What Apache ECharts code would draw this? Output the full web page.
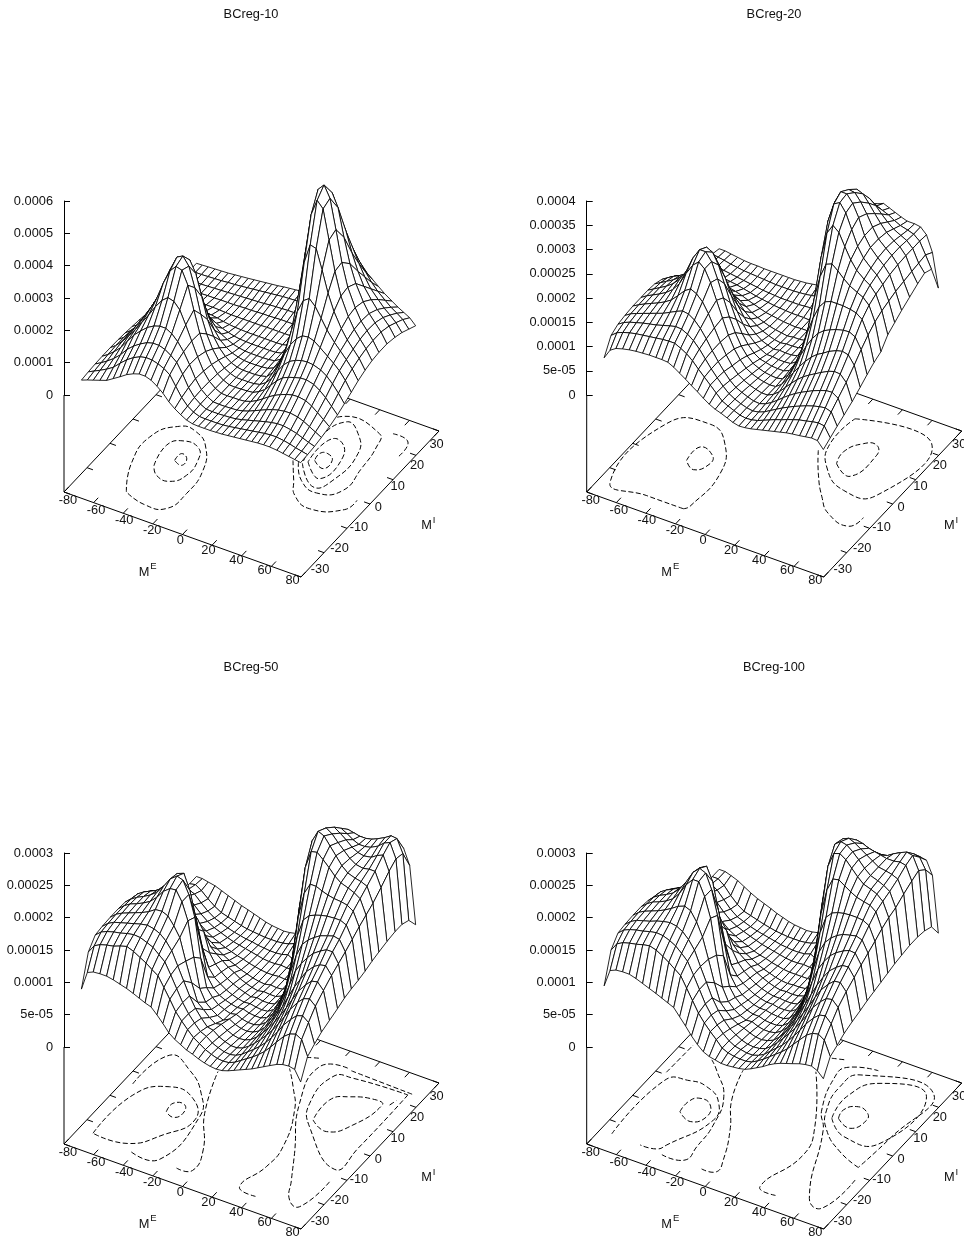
<!DOCTYPE html>
<html><head><meta charset="utf-8">
<style>html,body{margin:0;padding:0;background:#fff}#c{width:964px;height:1236px}</style>
<script src="https://cdn.jsdelivr.net/npm/echarts@6/dist/echarts.min.js"></script>
</head><body><div id="c"></div>
<script>
// Data, z in units of 1e-6
const meGrid=[-76,-72,-68,-63.5,-59,-54.5,-50,-45.5,-41,-37,-33,-29,-25,-21,-17,-13,-9,-5,-1,3,7,11,15,19,23,27,31,35,39,43,47,51,56,60,64,68,72];
const miGrid=[-25,-22,-19,-16,-12.5,-9,-6,-3,0,3,6,9,12.5,16,19,22,25];
const meTicks=[-80,-60,-40,-20,0,20,40,60,80];
const miTicks=[-30,-20,-10,0,10,20,30];
const titles=['BCreg-10','BCreg-20','BCreg-50','BCreg-100'];
const zLabels10=['0','0.0001','0.0002','0.0003','0.0004','0.0005','0.0006'];
const zLabels20=['0','5e-05','0.0001','0.00015','0.0002','0.00025','0.0003','0.00035','0.0004'];
const zLabels50=['0','5e-05','0.0001','0.00015','0.0002','0.00025','0.0003'];
const zLabels100=['0','5e-05','0.0001','0.00015','0.0002','0.00025','0.0003'];

const z10=[
[15,22,28,35,42,55,68,82,92,98,98,92,80,65,45,30,18,8,3,2,2,2,3,4,6,8,10,12,14,16,17,17,15,12,9,6,3],
[18,27,36,47,60,80,98,112,122,126,125,120,112,99,70,42,22,10,3,2,2,2,3,5,8,11,14,17,20,23,25,25,22,18,13,9,5],
[20,30,42,57,76,100,118,132,143,148,148,142,130,115,85,50,26,12,3,2,2,3,4,6,10,15,20,25,30,34,37,37,33,28,21,14,8],
[21,33,48,68,95,122,142,160,172,178,178,168,150,125,92,55,28,13,3,2,2,3,4,8,14,22,30,38,45,50,53,54,50,43,33,23,13],
[21,35,53,78,105,135,165,198,225,240,235,215,175,132,90,52,27,12,3,2,3,3,5,11,20,32,45,56,65,72,77,78,74,64,50,35,20],
[20,34,55,85,115,150,190,245,290,310,305,265,195,130,80,46,24,11,3,2,3,4,6,15,28,48,68,84,92,98,103,104,98,86,70,50,30],
[18,32,52,88,122,160,205,265,310,320,295,235,160,105,65,37,19,9,3,3,3,4,8,20,40,70,95,112,122,128,130,128,120,108,90,68,42],
[15,27,45,82,118,158,205,255,285,285,250,185,120,75,46,26,13,6,3,3,3,5,10,28,58,100,135,160,175,178,172,158,140,125,108,85,55],
[12,20,32,55,85,120,155,185,195,180,145,100,65,40,25,14,8,4,3,3,4,6,14,38,85,150,215,255,268,250,220,190,160,140,120,98,68],
[8,12,18,30,50,80,100,112,108,90,68,47,30,20,12,7,4,3,3,3,4,7,18,55,125,235,345,405,400,340,275,225,180,152,130,108,78],
[4,7,11,17,27,40,50,52,47,38,28,19,13,8,5,4,3,3,3,3,4,8,24,72,190,345,470,520,500,410,320,250,195,162,138,115,85],
[3,4,6,9,13,18,21,21,18,15,11,8,6,5,4,4,4,4,4,4,5,9,28,85,240,410,525,545,510,420,325,255,200,165,142,118,88],
[1,2,3,4,5,7,8,8,7,6,5,5,5,5,5,5,6,6,6,6,6,10,28,85,240,390,480,495,455,370,295,240,192,162,140,118,88],
[1,1,1,2,2,3,3,4,4,4,5,6,6,7,8,8,9,10,10,10,10,12,28,80,205,320,385,395,355,295,245,205,172,148,130,110,82],
[0,1,1,1,2,3,4,5,6,7,8,9,10,11,13,14,15,16,16,16,16,18,30,75,170,255,305,310,280,240,205,175,150,130,115,98,74],
[0,1,1,2,3,4,6,7,9,11,13,15,17,19,21,23,24,25,25,25,25,26,34,68,135,195,230,235,215,190,165,145,125,110,98,85,62],
[0,1,2,3,4,5,7,9,11,13,15,17,19,21,24,26,28,30,30,30,30,32,40,65,105,145,170,175,160,145,130,115,100,88,78,68,50]];

const z20=[
[56,76,84,88,91,93,94,95,95,95,94,88,80,72,63,55,46,38,32,28,23,18,15,16,18,21,24,27,30,33,36,38,40,42,44,43,29],
[87,97,102,106,109,111,113,115,117,118,118,112,105,95,82,70,58,46,34,28,23,18,16,17,20,25,30,35,39,44,48,52,55,58,60,58,38],
[95,103,108,112,116,119,122,126,130,133,132,126,117,104,88,72,58,45,34,27,22,18,16,18,23,30,37,44,50,56,61,66,71,74,76,72,47],
[98,106,111,116,121,126,131,138,145,150,148,140,127,110,90,72,56,42,32,26,21,17,16,20,27,36,46,55,63,70,76,82,88,92,93,85,55],
[100,107,113,119,125,132,141,155,170,178,172,160,140,115,90,68,50,37,29,23,19,16,16,22,32,45,58,70,80,88,95,102,110,114,113,100,65],
[100,108,114,121,129,140,157,183,205,216,206,182,150,118,87,63,45,32,25,20,17,15,16,25,40,58,75,90,103,113,120,128,135,138,135,118,77],
[100,107,114,122,132,146,168,200,222,222,206,175,140,105,77,54,38,27,21,17,15,14,17,30,52,78,102,122,137,147,153,158,162,163,157,135,88],
[98,105,112,120,130,146,170,200,212,206,184,150,115,85,60,42,29,21,18,15,14,14,19,38,70,110,145,172,187,192,192,192,190,187,178,150,98],
[92,100,107,114,123,135,155,172,174,164,142,110,82,60,42,30,21,15,15,13,13,14,22,50,100,165,215,245,250,240,228,218,210,204,192,162,105],
[80,88,94,100,107,113,122,130,128,115,95,74,55,40,29,20,15,11,13,12,12,15,28,70,150,235,290,310,300,275,252,235,222,214,200,170,125],
[68,72,76,80,83,85,87,87,83,73,60,47,36,27,20,15,11,9,11,11,12,17,35,95,205,295,335,342,325,295,265,245,230,220,205,175,135],
[55,58,60,62,62,62,60,58,53,46,38,30,24,19,15,12,10,8,10,10,12,18,42,120,235,320,345,345,330,305,272,252,236,225,210,180,145],
[45,46,46,46,45,43,41,38,34,29,25,21,17,15,13,11,10,9,10,10,12,20,50,135,245,315,332,330,315,295,272,252,238,228,213,183,155],
[40,40,38,36,33,31,29,26,23,20,18,16,14,13,12,11,11,11,10,10,12,22,55,140,238,295,315,310,295,278,262,248,236,228,214,186,165],
[36,35,32,29,27,25,23,21,19,17,16,15,14,14,14,14,15,16,12,11,13,24,58,140,225,270,285,285,275,262,250,240,232,226,214,188,172],
[34,32,30,27,25,23,22,21,20,19,18,18,18,18,19,20,22,24,14,13,15,26,60,135,205,240,255,255,250,245,238,232,228,224,214,190,165],
[30,30,28,26,24,23,23,22,22,22,22,22,22,23,24,26,28,32,14,14,16,28,58,125,180,215,240,245,240,235,230,226,226,224,212,180,111]];

const z50=[
[74,103,107,108,108,106,103,100,96,92,88,85,76,66,55,48,43,38,35,31,28,26,25,26,29,33,37,41,45,50,55,60,66,69,70,68,52],
[120,133,138,141,143,147,150,146,140,135,128,122,107,92,76,65,55,46,40,34,30,27,26,27,31,37,43,49,56,64,74,85,98,105,108,103,80],
[135,143,147,150,152,155,157,156,152,148,140,132,115,97,79,65,54,44,40,33,29,26,25,27,32,39,46,54,63,74,86,100,113,122,125,118,88],
[137,145,150,153,156,159,162,164,162,158,150,138,118,98,78,62,50,40,38,31,27,24,24,27,33,41,50,60,71,84,98,113,128,137,140,132,95],
[138,146,151,155,159,163,168,175,176,172,160,145,112,82,55,47,38,32,34,28,24,22,23,27,34,44,55,67,81,96,112,128,142,151,153,143,100],
[138,146,152,156,161,167,177,190,198,199,184,158,105,60,42,34,28,24,29,24,21,20,22,27,36,48,62,78,97,115,130,145,157,163,165,153,105],
[137,145,151,156,162,170,183,198,206,203,184,152,92,50,38,30,26,23,25,21,19,19,22,29,40,54,75,100,125,140,152,162,170,175,175,160,110],
[132,142,148,153,158,168,180,195,199,176,138,95,52,38,30,26,23,21,22,19,18,18,22,31,46,70,105,135,155,165,172,178,182,185,183,167,113],
[118,130,138,143,146,150,152,150,135,105,78,52,40,33,27,23,20,18,19,17,16,17,23,38,62,100,150,178,188,192,195,197,198,198,194,175,115],
[105,118,126,131,134,132,125,115,105,90,60,46,37,30,25,21,18,15,17,15,15,17,27,50,100,165,205,222,222,218,215,213,212,210,204,183,118],
[90,105,112,110,108,100,92,82,68,55,47,40,33,28,22,18,15,13,15,14,14,18,33,85,165,230,258,260,252,243,233,226,222,218,212,190,122],
[80,95,100,92,82,72,62,54,47,40,34,29,25,21,18,15,13,12,14,13,14,20,45,125,208,260,278,274,262,250,238,230,226,224,220,197,125],
[72,80,80,72,62,52,44,38,33,29,26,23,21,18,16,14,13,13,14,13,14,23,60,138,222,262,270,264,254,245,236,230,228,230,230,208,128],
[66,72,70,60,50,42,36,32,28,25,23,21,19,17,15,14,14,15,14,14,15,27,70,145,218,250,258,252,245,237,232,230,232,238,242,220,130],
[62,66,62,52,43,36,32,28,25,23,21,20,18,17,16,16,17,20,15,15,17,32,77,145,210,238,245,240,234,230,230,232,238,246,250,228,130],
[60,62,56,47,39,33,30,27,24,22,21,20,19,19,19,20,22,26,18,19,22,40,85,145,200,225,232,230,228,228,230,234,240,246,245,225,125],
[60,60,58,56,52,48,44,40,37,34,31,28,26,25,24,25,27,32,25,28,34,52,88,130,165,190,205,210,212,214,216,218,220,222,218,195,107]];

const z100=[
[79,106,110,111,111,108,104,100,96,92,88,84,73,62,50,40,32,28,26,24,24,25,26,28,32,37,42,48,53,57,60,63,67,69,70,66,57],
[123,136,141,144,146,149,151,148,142,136,129,122,106,90,74,62,52,43,33,29,27,26,26,28,33,39,46,53,60,68,78,88,100,106,108,102,80],
[138,146,150,153,155,158,160,159,155,150,142,133,115,96,77,63,51,41,33,28,26,24,24,27,32,40,48,56,66,77,89,102,115,123,125,116,86],
[140,148,153,156,159,163,166,168,166,161,152,139,117,96,75,59,47,37,31,26,23,22,23,26,33,42,52,63,74,87,101,116,129,137,139,130,93],
[141,149,154,158,162,167,173,180,184,180,166,146,115,82,55,45,36,31,28,24,21,20,22,26,34,45,57,70,84,99,115,130,143,151,152,141,98],
[141,149,155,159,164,171,183,200,212,212,192,162,108,62,43,34,28,24,25,21,19,19,21,27,36,49,65,82,100,118,133,146,156,162,163,150,102],
[139,148,154,159,165,175,190,208,218,214,192,155,96,52,38,30,25,22,22,19,18,18,21,28,41,56,78,105,128,143,155,163,170,174,173,158,106],
[135,145,151,156,162,172,187,204,210,190,148,100,55,40,31,26,22,20,20,18,17,17,21,31,47,73,110,140,158,168,175,180,183,185,182,165,109],
[122,135,142,147,150,155,160,158,145,112,85,56,42,34,28,23,20,18,18,16,16,17,23,38,65,105,155,182,192,196,198,199,199,198,193,172,112],
[108,122,130,135,138,136,128,118,106,92,64,48,38,31,25,21,18,16,16,15,15,17,27,52,105,170,210,230,232,226,220,215,212,210,203,180,115],
[95,110,118,116,112,104,95,84,70,58,48,41,34,28,23,19,16,14,15,14,15,18,34,90,170,232,255,258,252,242,232,224,220,216,208,186,118],
[85,100,105,96,85,75,64,56,48,42,36,31,26,22,19,16,14,13,14,14,15,21,46,128,212,255,262,260,253,244,234,226,222,218,212,190,120],
[78,86,85,76,65,55,46,40,35,31,27,24,22,19,17,15,14,14,14,14,15,24,62,142,222,250,254,250,244,238,232,226,224,222,218,198,122],
[74,78,75,64,53,44,38,34,30,27,24,22,20,18,16,15,15,16,15,15,16,28,72,145,212,232,238,236,232,230,228,226,226,228,226,205,122],
[72,74,68,57,46,38,34,30,27,25,23,21,19,18,17,17,18,21,16,16,18,33,78,145,200,214,218,216,214,214,216,222,228,232,230,210,120],
[71,71,64,52,42,35,32,29,26,24,22,21,20,20,20,21,23,27,19,20,23,40,85,140,178,195,198,195,196,200,206,212,216,218,216,200,115],
[71,71,68,64,58,52,47,43,39,35,32,29,27,26,25,26,28,33,26,29,34,50,82,120,150,165,175,178,180,184,190,195,200,202,200,180,94]];

const contours10=[
[[-48.6,-23.1],[-59.6,-13.9],[-63,-3.7],[-53,2.9],[-41.9,3],[-30,-0.6],[-20.2,-8.1],[-17.5,-17],[-20.5,-23.8],[-33.8,-25],[-48.6,-23.1]],
[[-47.3,-11.9],[-50.6,-4.4],[-44.3,-1.2],[-33.1,-1.7],[-27.5,-5.6],[-26.2,-11.4],[-31.8,-15.1],[-41.3,-14.7],[-47.3,-11.9]],
[[-39.3,-8.1],[-39.1,-5.3],[-33.9,-6.3],[-33.5,-8.9],[-39.3,-8.1]],
[[20.4,4.9],[30.2,-1.1],[37.9,-5.6],[51.8,-8.1],[69.9,-4.5],[71.7,-0.3]],
[[58.1,24.1],[69.6,23.2],[71.7,17.5]],
[[24,5],[34.1,-0.3],[47.7,-2.5],[59.9,1.2],[58.8,9.9],[56.1,18.2],[51.4,22.6],[24.6,23.9],[20,14],[24,5]],
[[26.6,5],[43,-1],[50,3.2],[49.9,14.2],[40.4,20.3],[28.9,22.6],[23,14],[26.6,5]],
[[28.7,6.1],[42.5,2.2],[44,11.4],[34.4,16.2],[28,14],[28.7,6.1]],
[[31.3,7.3],[39.5,5.7],[40.2,9.2],[34.8,10.8],[30.6,10],[31.3,7.3]]];
const contours20=[
[[-23.4,-24.5],[-48,-24.5],[-73,-24.3],[-72.3,-0.2],[-50,4.4],[-33.3,0],[-21.5,-9.7],[-21.1,-23],[-23.4,-24.5]],
[[-44.7,-9.3],[-44.3,-3.7],[-34.1,-4.9],[-31.3,-7.7],[-36.8,-11.4],[-44.7,-9.3]],
[[32.5,6.2],[45.3,3.8],[48.7,13.2],[43.9,16.3],[36.5,15.3],[30.3,10.6],[32.5,6.2]],
[[20.4,22],[70.9,22.8],[67.8,0.9],[48.6,-1.2],[29.1,4.1],[19.7,11.6],[20.4,22]],
[[16.9,8.3],[28.1,1.1],[40.9,-5.6],[52.1,-10],[68.3,-11.7],[71.7,-7.4]]];
const contours50=[
[[-43.8,-8.8],[-44.4,-5.5],[-37.8,-4.7],[-34.6,-7.5],[-37.7,-9.8],[-43.8,-8.8]],
[[-70.5,-23.5],[-68.6,-7.4],[-54,-0.8],[-36.8,-1.8],[-25.5,-8.2],[-34.4,-16.3],[-48,-22.8],[-70.5,-23.5]],
[[-74,-4],[-69,8.9],[-51.9,6.5],[-34.9,0.6],[-24.6,-6.7],[-24.5,-24.2],[-42.5,-25]],
[[-11.8,-25],[-2.6,-24],[-7,-16.5],[-23.7,-5.1],[-36.9,9.2]],
[[41.5,-25],[28.9,-23.8],[32.8,-14.7],[31.7,-6.7],[20.1,5.8],[8.2,12.8],[-2.3,18]],
[[71.9,-12.4],[68.7,-23.3],[60.5,-22.4],[51.8,-16],[40.7,-7.5],[19.4,8.4],[12,21.8],[27.1,24.5]],
[[0.9,23.3],[8.9,24.6]],
[[30,24.1],[71.8,23.6]],
[[70,22.9],[70.3,1.1],[68.6,-8],[35.6,2.3],[24.5,9.5],[23.5,20.3],[34.4,22],[70,22.9]],
[[34.1,4.8],[46.4,2.7],[56.6,7.6],[61.9,17],[56.5,17.9],[41.4,15.9],[32.9,12.7],[34.1,4.8]],
[[65.6,17.8],[66.9,19.9]]];
const contours100=[
[[-48.4,-9.8],[-48.9,-5.8],[-44.7,-3.5],[-36.4,-4.4],[-32.5,-8.4],[-38.5,-11.7],[-48.4,-9.8]],
[[-72.2,-24.1],[-71,-1.8],[-58.1,0.8],[-46.8,0.8],[-33.8,-2.5],[-27.5,-8.7],[-39.2,-21.5],[-42.3,-23.8],[-52.6,-24.4]],
[[-37,-25],[-22.8,-24.1],[-23.2,-18.7],[-25.2,-10.3],[-33.4,-0.4],[-49.8,7],[-57,9.6]],
[[-74,0.8],[-73.4,12.1]],
[[-10.2,-25],[-1.3,-24.2],[-3.5,-19.9],[-14.4,-9.9],[-27.9,-0.5],[-36.3,9.9]],
[[39.7,-25],[27.7,-24],[34.4,-9.6],[26.8,0.4],[1.1,17.4]],
[[72.5,-11.5],[69.2,-23.8],[58.2,-22.2],[32.6,0.3],[22.3,6.3],[13.1,18],[14.6,22.1],[32.1,24.6]],
[[68.1,-7.3],[51.4,-4.5],[34.3,0.7],[24.8,6.8],[20.4,15.5],[24.9,21.3],[70.7,23.7],[70.2,5.1],[68.1,-7.3]],
[[31.3,4.9],[45.9,0.6],[67.6,2.5],[68.8,21.9],[39,20.9],[28.5,13.1],[31.3,4.9]],
[[34.7,5.6],[45.3,3.8],[49.8,8.2],[45.8,10.7],[38.3,11.2],[33.2,8.7],[34.7,5.6]],
[[2.7,23.3],[11.1,24.4]]];

// Panels
const panels=[
 {x0:64,y0:492,zMax:600,step:100,z:z10,labels:zLabels10,contours:contours10,tx:251,ty:14},
 {x0:586.7,y0:492,zMax:400,step:50,z:z20,labels:zLabels20,contours:contours20,tx:774,ty:14},
 {x0:64,y0:1144,zMax:300,step:50,z:z50,labels:zLabels50,contours:contours50,tx:251,ty:667},
 {x0:586.7,y0:1144,zMax:300,step:50,z:z100,labels:zLabels100,contours:contours100,tx:774,ty:667}];
const SX=237,SXY=85,SY=138,SYY=146,BASE=97,ZH=194;
const FONT='"Liberation Sans",Arial,sans-serif',FS=12.8;
function proj(P,me,mi,rise){
  const a=(me+80)/160,b=(mi+30)/60;
  return [P.x0+a*SX+b*SY, P.y0+a*SXY-b*SYY-rise];
}
const riseOf=(P,v)=>BASE+v/P.zMax*ZH;

const grids=[{left:0,top:0,width:964,height:1236}];
const xAxes=[{gridIndex:0,type:'value',min:0,max:964,show:false}];
const yAxes=[{gridIndex:0,type:'value',min:0,max:1236,inverse:true,show:false}];
const series=[];

panels.forEach((P,n)=>{
  const g=n+1;
  grids.push({left:P.x0,top:P.y0-BASE-ZH,width:10,height:ZH});
  xAxes.push({gridIndex:g,type:'value',min:0,max:1,show:false});
  yAxes.push({gridIndex:g,type:'value',min:0,max:P.zMax*1e-6,interval:P.step*1e-6,
    axisLine:{show:true,onZero:false,lineStyle:{color:'#000',width:1}},
    axisTick:{show:true,inside:true,length:6,lineStyle:{color:'#000',width:1}},
    splitLine:{show:false},
    axisLabel:{color:'#111',fontSize:FS,fontFamily:FONT,margin:11,
      formatter:(v)=>P.labels[Math.round(v/(P.step*1e-6))]}});
  // base box and ticks
  const segs=[[-80,-30,80,-30],[80,-30,80,30],[80,30,-80,30],[-80,30,-80,-30]];
  meTicks.forEach(t=>{segs.push([t,-30,t,-28]);segs.push([t,30,t,28]);});
  miTicks.forEach(t=>{segs.push([80,t,76,t]);segs.push([-80,t,-76,t]);});
  series.push({type:'custom',coordinateSystem:'cartesian2d',xAxisIndex:0,yAxisIndex:0,silent:true,animation:false,clip:false,z:2,
    data:segs.map((s,i)=>[i,0]),
    renderItem:(p,api)=>{const s=segs[api.value(0)];
      const a=api.coord(proj(P,s[0],s[1],0)),b=api.coord(proj(P,s[2],s[3],0));
      return {type:'line',shape:{x1:a[0],y1:a[1],x2:b[0],y2:b[1]},style:{stroke:'#000',lineWidth:1}};}});
  // z axis below zero
  series.push({type:'custom',coordinateSystem:'cartesian2d',xAxisIndex:0,yAxisIndex:0,silent:true,animation:false,clip:false,z:2,
    data:[[0,0]],
    renderItem:(p,api)=>{const a=api.coord(proj(P,-80,-30,0)),b=api.coord(proj(P,-80,-30,BASE));
      return {type:'line',shape:{x1:a[0],y1:a[1],x2:b[0],y2:b[1]},style:{stroke:'#000',lineWidth:1}};}});
  // contours
  series.push({type:'custom',coordinateSystem:'cartesian2d',xAxisIndex:0,yAxisIndex:0,silent:true,animation:false,clip:false,z:3,
    data:P.contours.map((c,i)=>[i,0]),
    renderItem:(p,api)=>{const c=P.contours[api.value(0)];
      const pts=c.map(q=>api.coord(proj(P,q[0],q[1],0)));
      return {type:'polyline',shape:{points:pts,smooth:0.5},style:{fill:null,stroke:'#000',lineWidth:1,lineDash:[5,2.5]}};}});
  // surface, painted back to front
  const cells=[];
  for(let j=miGrid.length-2;j>=0;j--)for(let i=0;i<meGrid.length-1;i++)cells.push([i,j]);
  series.push({type:'custom',coordinateSystem:'cartesian2d',xAxisIndex:0,yAxisIndex:0,silent:true,animation:false,clip:false,z:4,
    data:cells,
    renderItem:(p,api)=>{const i=api.value(0),j=api.value(1);
      const pts=[[i,j],[i+1,j],[i+1,j+1],[i,j+1]].map(q=>api.coord(proj(P,meGrid[q[0]],miGrid[q[1]],riseOf(P,P.z[q[1]][q[0]]))));
      return {type:'polygon',shape:{points:pts},style:{fill:'#fff',stroke:'#000',lineWidth:0.85}};}});
  // tick labels and axis names
  const texts=[];
  meTicks.forEach(t=>texts.push([P.x0+116.3+t*1.404,P.y0+48+t*0.5,String(t),FS]));
  miTicks.forEach(t=>texts.push([P.x0+314.3+t*1.94,P.y0+15-t*2.07,String(t),FS]));
  texts.push([P.x0+80,P.y0+80,'M',FS]);
  texts.push([P.x0+89.5,P.y0+74,'E',9.5]);
  texts.push([P.x0+362.7,P.y0+33,'M',FS]);
  texts.push([P.x0+370,P.y0+28,'I',9.5]);
  series.push({type:'custom',coordinateSystem:'cartesian2d',xAxisIndex:0,yAxisIndex:0,silent:true,animation:false,clip:false,z:5,
    data:texts.map((t,i)=>[i,0]),
    renderItem:(p,api)=>{const t=texts[api.value(0)],c=api.coord([t[0],t[1]]);
      return {type:'text',x:c[0],y:c[1],style:{text:t[2],fill:'#111',fontSize:t[3],fontFamily:FONT,align:'center',verticalAlign:'middle'}};}});
});

const chart=echarts.init(document.getElementById('c'),null,{renderer:'canvas'});
chart.setOption({animation:false,backgroundColor:'#fff',
  title:panels.map((P,n)=>({text:titles[n],left:P.tx-5,top:P.ty-11,textAlign:'center',
    textStyle:{color:'#111',fontSize:FS,fontWeight:'normal',fontFamily:FONT}})),
  grid:grids,xAxis:xAxes,yAxis:yAxes,series});
</script></body></html>
